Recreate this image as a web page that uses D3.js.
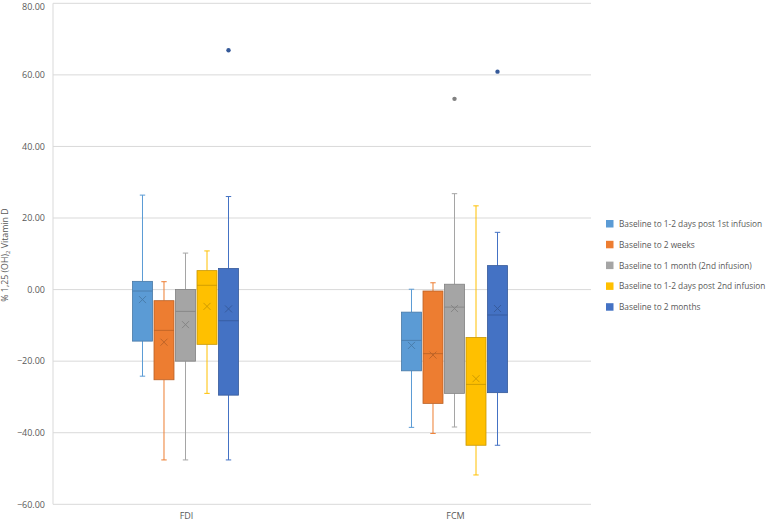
<!DOCTYPE html>
<html>
<head>
<meta charset="utf-8">
<script src="https://cdn.jsdelivr.net/npm/d3@7"></script>
<style>
  body { margin: 0; background: #fff; }
  text { font-family: "Open Sans", "Liberation Sans", sans-serif; fill: #595959; }
</style>
</head>
<body>
<svg id="canvas" width="777" height="523"></svg>
<script>
const categories = ["FDI", "FCM"]
const seriesNames = [
  "Baseline to 1-2 days post 1st infusion",
  "Baseline to 2 weeks",
  "Baseline to 1 month (2nd infusion)",
  "Baseline to 1-2 days post 2nd infusion",
  "Baseline to 2 months"
]
const colors = ["#5b9bd5", "#ed7d31", "#a5a5a5", "#ffc000", "#4472c4"]

// one row per category, one value per series
const whiskerHigh = [[26.4, 2.2, 10.2, 10.8, 26.0], [0.1, 1.9, 26.8, 23.4, 16.0]]
const q3 = [[2.3, -3.1, 0.0, 5.3, 5.9], [-6.3, -0.4, 1.5, -13.4, 6.7]]
const median = [[-0.4, -11.4, -6.1, 1.2, -8.7], [-14.2, -17.9, -4.9, -26.5, -7.1]]
const q1 = [[-14.4, -25.2, -20.0, -15.3, -29.5], [-22.7, -31.8, -29.0, -43.5, -28.8]]
const whiskerLow = [[-24.2, -47.6, -47.6, -29.0, -47.6], [-38.5, -40.2, -38.4, -51.8, -43.5]]
const means = [[-2.8, -14.7, -9.8, -4.7, -5.4], [-15.6, -18.3, -5.3, -24.9, -5.3]]
const outliers = [[[], [], [], [], [66.9]], [[], [], [53.3], [], [60.9]]]

const yTicks = [80, 60, 40, 20, 0, -20, -40, -60]

const svg = d3.select("#canvas")
const plotLeft = 53, plotRight = 591, plotTop = 3.3, plotBottom = 504.3
const groupShift = -2

const y = d3.scaleLinear().domain([-60, 80]).range([plotBottom, plotTop])
const x0 = d3.scaleBand().domain(categories).range([plotLeft, plotRight])
const x1 = d3.scaleBand().domain(d3.range(seriesNames.length))
  .range([0, x0.bandwidth()]).paddingInner(0.07).paddingOuter(3.79)

// gridlines
svg.append("g")
  .selectAll("line")
  .data(yTicks)
  .enter()
  .append("line")
  .attr("x1", plotLeft).attr("x2", plotRight)
  .attr("y1", d => y(d)).attr("y2", d => y(d))
  .attr("stroke", "#d9d9d9").attr("stroke-width", 1)

svg.append("line")
  .attr("x1", plotLeft).attr("x2", plotLeft)
  .attr("y1", plotTop).attr("y2", plotBottom)
  .attr("stroke", "#d9d9d9")

// y axis labels
svg.append("g")
  .selectAll("text")
  .data(yTicks)
  .enter()
  .append("text")
  .attr("x", 45)
  .attr("y", d => Math.max(y(d) + 3.3, 9.5))
  .attr("text-anchor", "end")
  .attr("font-size", "9px")
  .text(d => d3.format(".2f")(d))

// y axis title
const title = svg.append("text")
  .attr("transform", "translate(8,255) rotate(-90)")
  .attr("text-anchor", "middle")
  .attr("font-size", "8.8px")
title.append("tspan").text("% 1,25 (OH)")
title.append("tspan").attr("font-size", "6px").attr("dy", 2).text("2")
title.append("tspan").attr("dy", -2).text(" Vitamin D")

// category labels
svg.append("g")
  .selectAll("text")
  .data(categories)
  .enter()
  .append("text")
  .attr("x", d => x0(d) + x0.bandwidth() / 2 - 1)
  .attr("y", 519)
  .attr("text-anchor", "middle")
  .attr("font-size", "9px")
  .text(d => d)

const darker = c => d3.color(c).darker(0.7).formatHex()

categories.forEach((cat, ci) => {
  const g = svg.append("g")
  seriesNames.forEach((s, si) => {
    const bx = x0(cat) + x1(si) + groupShift
    const bw = x1.bandwidth()
    const cx = bx + bw / 2
    const col = colors[si]
    const dk = darker(col)
    // whiskers
    g.append("line")
      .attr("x1", cx).attr("x2", cx)
      .attr("y1", y(whiskerHigh[ci][si])).attr("y2", y(q3[ci][si]))
      .attr("stroke", col).attr("stroke-width", 1)
    g.append("line")
      .attr("x1", cx).attr("x2", cx)
      .attr("y1", y(q1[ci][si])).attr("y2", y(whiskerLow[ci][si]))
      .attr("stroke", col).attr("stroke-width", 1)
    ;[whiskerHigh[ci][si], whiskerLow[ci][si]].forEach(v => {
      g.append("line")
        .attr("x1", cx - 2.7).attr("x2", cx + 2.7)
        .attr("y1", y(v)).attr("y2", y(v))
        .attr("stroke", col).attr("stroke-width", 1)
    })
    // box
    g.append("rect")
      .attr("x", bx).attr("width", bw)
      .attr("y", y(q3[ci][si]))
      .attr("height", y(q1[ci][si]) - y(q3[ci][si]))
      .attr("fill", col)
      .attr("stroke", dk).attr("stroke-width", 0.8)
    // median
    g.append("line")
      .attr("x1", bx).attr("x2", bx + bw)
      .attr("y1", y(median[ci][si])).attr("y2", y(median[ci][si]))
      .attr("stroke", dk).attr("stroke-width", 0.8)
    // mean
    const my = y(means[ci][si])
    g.append("path")
      .attr("d", `M${cx - 3.5},${my - 3.5}L${cx + 3.5},${my + 3.5}M${cx - 3.5},${my + 3.5}L${cx + 3.5},${my - 3.5}`)
      .attr("stroke", dk).attr("stroke-width", 0.9)
    // outliers
    outliers[ci][si].forEach(v => {
      g.append("circle")
        .attr("cx", cx).attr("cy", y(v)).attr("r", 2.2)
        .attr("fill", dk)
    })
  })
})

// legend
const legend = svg.append("g")
seriesNames.forEach((s, i) => {
  const ly = 224 + i * 20.8
  legend.append("rect")
    .attr("x", 606).attr("y", ly - 4).attr("width", 7.5).attr("height", 7.5)
    .attr("fill", colors[i])
  legend.append("text")
    .attr("x", 619).attr("y", ly + 3)
    .attr("font-size", "8.3px")
    .text(s)
})
</script>
</body>
</html>
